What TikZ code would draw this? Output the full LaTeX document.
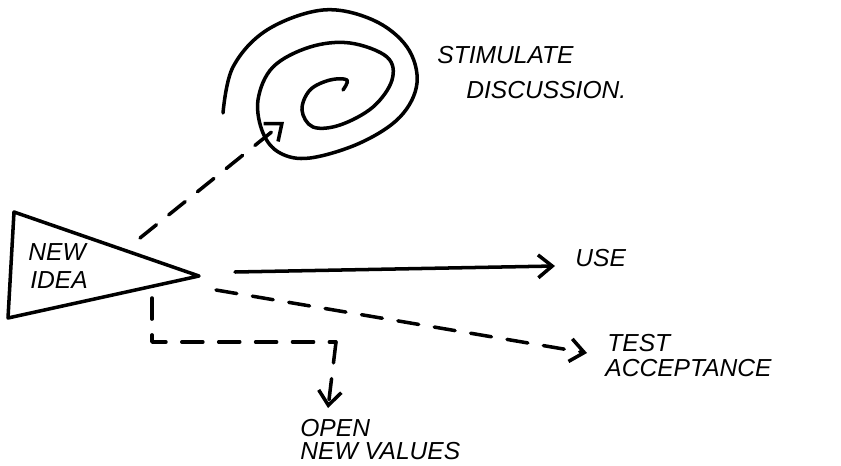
\documentclass[tikz,border=0pt]{standalone}
\usepackage{fontspec}
\setmainfont{Liberation Sans}
\usetikzlibrary{calc, positioning, arrows.meta}

\begin{document}
\begin{tikzpicture}[x=0.02cm, y=-0.02cm]
    % Estilos
    \tikzstyle{sketch} = [draw, line width=2pt, line cap=round, line join=round]
    \tikzstyle{line} = [sketch, -{Straight Barb[length=8pt, width=13pt, line width=2pt]}]
    \tikzstyle{dash_line} = [line, dash pattern=on 12pt off 9pt]
    \tikzstyle{dash_plain} = [sketch, dash pattern=on 12pt off 9pt]
    \tikzstyle{note_text} = [anchor=west, inner sep=0pt, font=\fontsize{14}{16}\selectfont\itshape]

    % Area do desenho
    \useasboundingbox (0,0) rectangle (841,466);

    % Triangulo da ideia
    \coordinate (tri_top) at (14,212);
    \coordinate (tri_bottom) at (8,318);
    \coordinate (tri_tip) at (199,276);
    \path [sketch] (tri_top) -- (tri_tip) -- (tri_bottom) -- cycle;
    \node [note_text] (new) at (28,252) {NEW};
    \node [note_text] (idea) at (30,280) {IDEA};

    % Espiral
    \path [sketch] plot [smooth, tension=0.6] coordinates {
        (223,113) (233,67) (267,30) (323,10) (373,20) (407,47) (417,83)
        (400,117) (360,143) (310,158) (280,153) (263,133) (258,100)
        (273,67) (310,47) (350,43) (387,57) (392,80) (373,107) (340,125)
        (313,127) (302,110) (310,90) (330,80) (347,80) (343,90)};
    \coordinate (spiral_in) at (284,122);

    % Textos dos destinos
    \node [note_text] (stimulate) at (437,55) {STIMULATE};
    \node [note_text] (discussion) at (466,90) {DISCUSSION.};
    \node [note_text] (use) at (575,258) {USE};
    \node [note_text] (test) at (607,343) {TEST};
    \node [note_text] (acceptance) at (605,368) {ACCEPTANCE};
    \node [note_text] (open) at (300,428) {OPEN};
    \node [note_text] (values) at (300,451) {NEW VALUES};

    % Pontos das setas
    \coordinate (spiral_start) at (140,238);
    \coordinate (use_start) at (235,272);
    \coordinate (use_end) at (555,266);
    \coordinate (test_start) at (216,290);
    \coordinate (test_end) at (587,353);
    \coordinate (open_start) at (152,298);
    \coordinate (junction) at (336,342);
    \coordinate (open_end) at (328,408);

    % Conexoes
    \path [dash_line] (spiral_start) -- (spiral_in);
    \path [line] (use_start) -- (use_end);
    \path [dash_line] (test_start) -- (test_end);
    \path [dash_plain] (open_start) |- (junction);
    \path [dash_line] (junction) -- (open_end);
\end{tikzpicture}
\end{document}
